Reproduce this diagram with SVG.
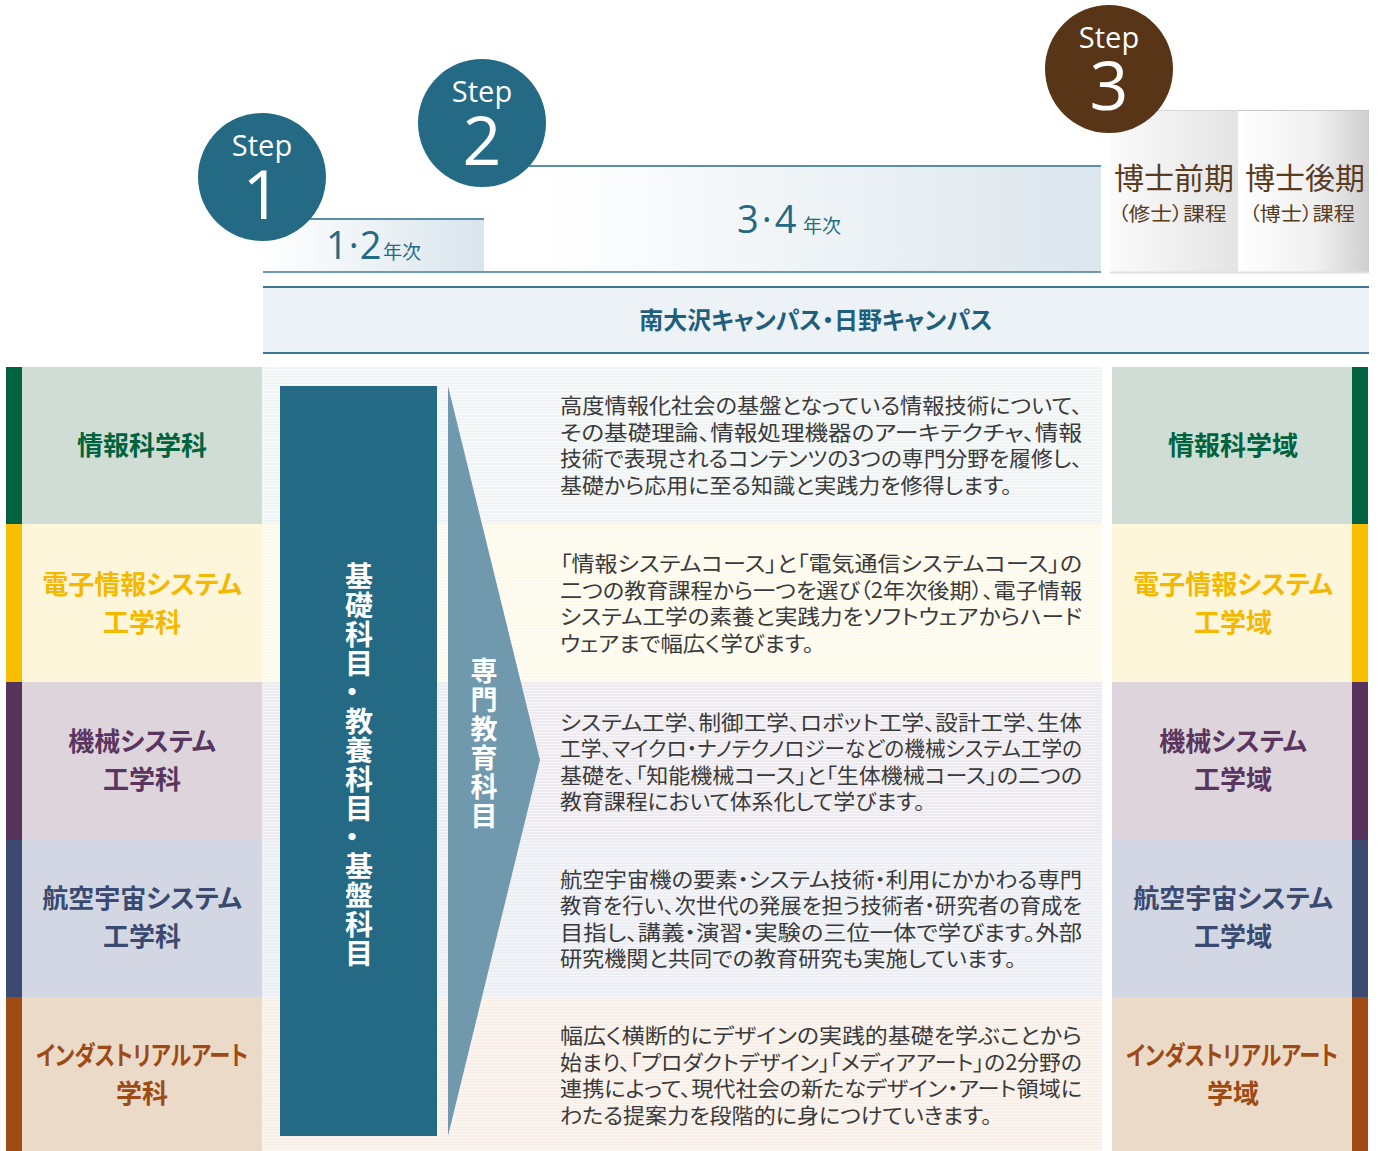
<svg xmlns="http://www.w3.org/2000/svg" width="1381" height="1151" viewBox="0 0 1381 1151">
<defs>
<style>
.jp{font-family:"Noto Sans CJK JP","Noto Sans CJK SC",sans-serif;font-feature-settings:"palt";}
.lat{font-family:"Open Sans","Noto Sans",sans-serif;}
.stepw{fill:#ffffff;text-anchor:middle;}
.yr{fill:#246a84;}
.lbl{font-size:26px;font-weight:700;text-anchor:middle;}
.body{font-size:21px;fill:#3a3a3a;font-weight:400;}
.doc{fill:#5b3b1e;text-anchor:middle;}
.vt{writing-mode:vertical-rl;fill:#ffffff;font-weight:700;}
</style>
<linearGradient id="g12" x1="0" y1="0" x2="1" y2="0"><stop offset="0" stop-color="#ffffff"/><stop offset="1" stop-color="#d9e5ec"/></linearGradient>
<linearGradient id="g34" x1="0" y1="0" x2="1" y2="0"><stop offset="0" stop-color="#ffffff"/><stop offset="0.1" stop-color="#ffffff"/><stop offset="1" stop-color="#dce6ed"/></linearGradient>
<linearGradient id="gD1" x1="0" y1="0" x2="1" y2="0"><stop offset="0" stop-color="#fbfbfb"/><stop offset="1" stop-color="#e4e4e4"/></linearGradient>
<linearGradient id="gD2" x1="0" y1="0" x2="1" y2="0"><stop offset="0" stop-color="#ffffff"/><stop offset="0.6" stop-color="#f0f0f0"/><stop offset="1" stop-color="#cfcfcf"/></linearGradient>
<pattern id="s1" width="4" height="3" patternUnits="userSpaceOnUse"><rect width="4" height="3" fill="#f1f4f4"/><rect width="4" height="1" fill="#f9fbfb"/></pattern>
<pattern id="s2" width="4" height="3" patternUnits="userSpaceOnUse"><rect width="4" height="3" fill="#fdfaec"/><rect width="4" height="1" fill="#fffdf6"/></pattern>
<pattern id="s3" width="4" height="3" patternUnits="userSpaceOnUse"><rect width="4" height="3" fill="#eeebf0"/><rect width="4" height="1" fill="#f7f5f8"/></pattern>
<pattern id="s4" width="4" height="3" patternUnits="userSpaceOnUse"><rect width="4" height="3" fill="#eceef4"/><rect width="4" height="1" fill="#f6f7fa"/></pattern>
<pattern id="s5" width="4" height="3" patternUnits="userSpaceOnUse"><rect width="4" height="3" fill="#f8efe8"/><rect width="4" height="1" fill="#fcf7f3"/></pattern>
</defs>
<rect width="1381" height="1151" fill="#ffffff"/>

<!-- Year header boxes -->
<g id="year12">
<rect x="263" y="218" width="221" height="54" fill="url(#g12)"/>
<line x1="263" y1="219" x2="484" y2="219" stroke="#5a8fa5" stroke-width="2"/>
<text class="yr" x="326" y="259"><tspan class="lat" font-size="38" letter-spacing="1">1·2</tspan><tspan class="jp" x="383" font-size="19">年次</tspan></text>
</g>
<g id="year34">
<rect x="484" y="165" width="617" height="107" fill="url(#g34)"/>
<line x1="484" y1="166" x2="1101" y2="166" stroke="#5a8fa5" stroke-width="2"/>
<text class="yr" x="737" y="233"><tspan class="lat" font-size="38" letter-spacing="3">3·4</tspan><tspan class="jp" x="803" font-size="19">年次</tspan></text>
</g>
<line x1="263" y1="272" x2="1101" y2="272" stroke="#6d9bb0" stroke-width="2"/>

<g id="doctor-early">
<rect x="1110" y="110" width="128" height="162" fill="url(#gD1)"/>
<line x1="1110" y1="110.5" x2="1238" y2="110.5" stroke="#d6d6d6" stroke-width="1"/>
<text class="jp doc"><tspan x="1174" y="189" font-size="30">博士前期</tspan><tspan x="1172" y="221" font-size="19" textLength="109" lengthAdjust="spacingAndGlyphs">（修士）課程</tspan></text>
</g>
<g id="doctor-late">
<rect x="1238" y="110" width="131" height="162" fill="url(#gD2)"/>
<line x1="1238" y1="110.5" x2="1369" y2="110.5" stroke="#c8c8c8" stroke-width="1"/>
<text class="jp doc"><tspan x="1305" y="189" font-size="30">博士後期</tspan><tspan x="1302" y="221" font-size="19" textLength="106" lengthAdjust="spacingAndGlyphs">（博士）課程</tspan></text>
</g>
<line x1="1110" y1="272.5" x2="1369" y2="272.5" stroke="#e0e0e0" stroke-width="2"/>

<!-- Steps -->
<g id="step1">
<circle cx="262" cy="177" r="64" fill="#246a84"/>
<text class="lat stepw"><tspan x="262" y="156" font-size="29">Step</tspan><tspan x="262" y="219" font-size="68">1</tspan></text>
</g>
<g id="step2">
<circle cx="482" cy="123" r="64" fill="#246a84"/>
<text class="lat stepw"><tspan x="482" y="102" font-size="29">Step</tspan><tspan x="482" y="165" font-size="68">2</tspan></text>
</g>
<g id="step3">
<circle cx="1109" cy="69" r="64" fill="#573516"/>
<text class="lat stepw"><tspan x="1109" y="48" font-size="29">Step</tspan><tspan x="1109" y="110" font-size="68">3</tspan></text>
</g>

<!-- Campus band -->
<g id="campus">
<rect x="263" y="286" width="1106" height="67" fill="#edf2f6"/>
<line x1="263" y1="287" x2="1369" y2="287" stroke="#3c7893" stroke-width="2"/>
<line x1="263" y1="353" x2="1369" y2="353" stroke="#3c7893" stroke-width="2"/>
<text class="jp" x="816" y="329" font-size="24" font-weight="700" fill="#1f5f7b" text-anchor="middle">南大沢キャンパス・日野キャンパス</text>
</g>

<!-- Middle striped backgrounds -->
<g id="middle-bg">
<rect x="262" y="367" width="840" height="157" fill="url(#s1)"/>
<rect x="262" y="524" width="840" height="158" fill="url(#s2)"/>
<rect x="262" y="682" width="840" height="158" fill="url(#s3)"/>
<rect x="262" y="840" width="840" height="157" fill="url(#s4)"/>
<rect x="262" y="997" width="840" height="154" fill="url(#s5)"/>
</g>

<!-- Left departments -->
<g id="dept-info">
<rect x="6" y="367" width="16" height="157" fill="#006241"/>
<rect x="22" y="367" width="240" height="157" fill="#cfddd5"/>
<text class="jp lbl" x="142" y="455" fill="#00633e">情報科学科</text>
</g>
<g id="dept-elec">
<rect x="6" y="524" width="16" height="158" fill="#f8bf00"/>
<rect x="22" y="524" width="240" height="158" fill="#fdf6da"/>
<text class="jp lbl" fill="#f5b800"><tspan x="142" y="594">電子情報システム</tspan><tspan x="142" y="632">工学科</tspan></text>
</g>
<g id="dept-mech">
<rect x="6" y="682" width="16" height="158" fill="#57345c"/>
<rect x="22" y="682" width="240" height="158" fill="#ddd4dc"/>
<text class="jp lbl" fill="#5a3560"><tspan x="142" y="751">機械システム</tspan><tspan x="142" y="789">工学科</tspan></text>
</g>
<g id="dept-aero">
<rect x="6" y="840" width="16" height="157" fill="#3b4a70"/>
<rect x="22" y="840" width="240" height="157" fill="#d3d7e3"/>
<text class="jp lbl" fill="#3a4a70"><tspan x="142" y="908">航空宇宙システム</tspan><tspan x="142" y="946">工学科</tspan></text>
</g>
<g id="dept-art">
<rect x="6" y="997" width="16" height="154" fill="#a04a14"/>
<rect x="22" y="997" width="240" height="154" fill="#ecdac9"/>
<text class="jp lbl" fill="#9e4a14"><tspan x="142" y="1065" textLength="212" lengthAdjust="spacingAndGlyphs">インダストリアルアート</tspan><tspan x="142" y="1103">学科</tspan></text>
</g>

<!-- Right graduate domains -->
<g id="grad-info">
<rect x="1112" y="367" width="240" height="157" fill="#cfddd5"/>
<rect x="1352" y="367" width="16" height="157" fill="#006241"/>
<text class="jp lbl" x="1233" y="455" fill="#00633e">情報科学域</text>
</g>
<g id="grad-elec">
<rect x="1112" y="524" width="240" height="158" fill="#fdf6da"/>
<rect x="1352" y="524" width="16" height="158" fill="#f8bf00"/>
<text class="jp lbl" fill="#f5b800"><tspan x="1233" y="594">電子情報システム</tspan><tspan x="1233" y="632">工学域</tspan></text>
</g>
<g id="grad-mech">
<rect x="1112" y="682" width="240" height="158" fill="#ddd4dc"/>
<rect x="1352" y="682" width="16" height="158" fill="#57345c"/>
<text class="jp lbl" fill="#5a3560"><tspan x="1233" y="751">機械システム</tspan><tspan x="1233" y="789">工学域</tspan></text>
</g>
<g id="grad-aero">
<rect x="1112" y="840" width="240" height="157" fill="#d3d7e3"/>
<rect x="1352" y="840" width="16" height="157" fill="#3b4a70"/>
<text class="jp lbl" fill="#3a4a70"><tspan x="1233" y="908">航空宇宙システム</tspan><tspan x="1233" y="946">工学域</tspan></text>
</g>
<g id="grad-art">
<rect x="1112" y="997" width="240" height="154" fill="#ecdac9"/>
<rect x="1352" y="997" width="16" height="154" fill="#a04a14"/>
<text class="jp lbl" fill="#9e4a14"><tspan x="1232" y="1065" textLength="212" lengthAdjust="spacingAndGlyphs">インダストリアルアート</tspan><tspan x="1233" y="1103">学域</tspan></text>
</g>

<!-- Foundation subjects -->
<g id="foundation">
<rect x="280" y="386" width="157" height="750" fill="#246a84"/>
<text class="jp vt" x="359" y="562" font-size="28" letter-spacing="1">基礎科目・教養科目・基盤科目</text>
</g>

<!-- Specialized subjects arrow -->
<g id="specialized">
<polygon points="448,386 540,760 448,1136" fill="#7099ae"/>
<text class="jp vt" x="484" y="657" font-size="27" letter-spacing="2">専門教育科目</text>
</g>

<g id="connectors"></g>

<!-- Descriptions -->
<g id="desc-info">
<text class="jp body">
<tspan x="560" y="413" textLength="522" lengthAdjust="spacingAndGlyphs">高度情報化社会の基盤となっている情報技術について、</tspan>
<tspan x="560" y="440" textLength="522" lengthAdjust="spacingAndGlyphs">その基礎理論、情報処理機器のアーキテクチャ、情報</tspan>
<tspan x="560" y="466" textLength="522" lengthAdjust="spacingAndGlyphs">技術で表現されるコンテンツの3つの専門分野を履修し、</tspan>
<tspan x="560" y="493" textLength="452" lengthAdjust="spacingAndGlyphs">基礎から応用に至る知識と実践力を修得します。</tspan>
</text>
</g>
<g id="desc-elec">
<text class="jp body">
<tspan x="560" y="571" textLength="522" lengthAdjust="spacingAndGlyphs">「情報システムコース」と「電気通信システムコース」の</tspan>
<tspan x="560" y="598" textLength="522" lengthAdjust="spacingAndGlyphs">二つの教育課程から一つを選び（2年次後期）、電子情報</tspan>
<tspan x="560" y="624" textLength="522" lengthAdjust="spacingAndGlyphs">システム工学の素養と実践力をソフトウェアからハード</tspan>
<tspan x="560" y="651" textLength="254" lengthAdjust="spacingAndGlyphs">ウェアまで幅広く学びます。</tspan>
</text>
</g>
<g id="desc-mech">
<text class="jp body">
<tspan x="560" y="730" textLength="522" lengthAdjust="spacingAndGlyphs">システム工学、制御工学、ロボット工学、設計工学、生体</tspan>
<tspan x="560" y="756" textLength="522" lengthAdjust="spacingAndGlyphs">工学、マイクロ・ナノテクノロジーなどの機械システム工学の</tspan>
<tspan x="560" y="783" textLength="522" lengthAdjust="spacingAndGlyphs">基礎を、「知能機械コース」と「生体機械コース」の二つの</tspan>
<tspan x="560" y="809" textLength="365" lengthAdjust="spacingAndGlyphs">教育課程において体系化して学びます。</tspan>
</text>
</g>
<g id="desc-aero">
<text class="jp body">
<tspan x="560" y="887" textLength="522" lengthAdjust="spacingAndGlyphs">航空宇宙機の要素・システム技術・利用にかかわる専門</tspan>
<tspan x="560" y="913" textLength="522" lengthAdjust="spacingAndGlyphs">教育を行い、次世代の発展を担う技術者・研究者の育成を</tspan>
<tspan x="560" y="940" textLength="522" lengthAdjust="spacingAndGlyphs">目指し、講義・演習・実験の三位一体で学びます。外部</tspan>
<tspan x="560" y="966" textLength="456" lengthAdjust="spacingAndGlyphs">研究機関と共同での教育研究も実施しています。</tspan>
</text>
</g>
<g id="desc-art">
<text class="jp body">
<tspan x="560" y="1043" textLength="522" lengthAdjust="spacingAndGlyphs">幅広く横断的にデザインの実践的基礎を学ぶことから</tspan>
<tspan x="560" y="1070" textLength="522" lengthAdjust="spacingAndGlyphs">始まり、「プロダクトデザイン」「メディアアート」の2分野の</tspan>
<tspan x="560" y="1096" textLength="522" lengthAdjust="spacingAndGlyphs">連携によって、現代社会の新たなデザイン・アート領域に</tspan>
<tspan x="560" y="1123" textLength="432" lengthAdjust="spacingAndGlyphs">わたる提案力を段階的に身につけていきます。</tspan>
</text>
</g>
</svg>
